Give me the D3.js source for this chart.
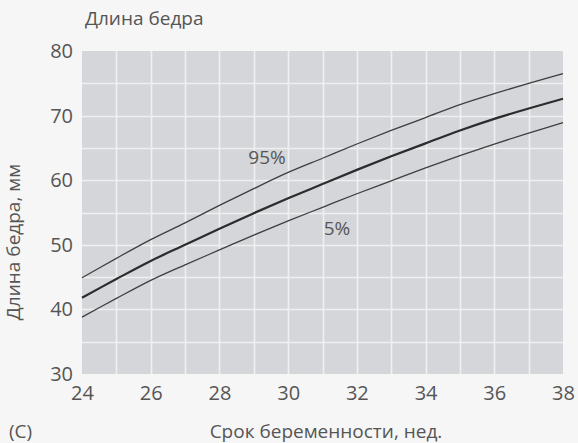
<!DOCTYPE html>
<html>
<head>
<meta charset="utf-8">
<script src="https://cdn.jsdelivr.net/npm/d3@7"></script>
<style>
  html, body { margin: 0; padding: 0; background: #f6f6f6; }
  svg { display: block; }
  text { font-family: "Open Sans", "Noto Sans", sans-serif; fill: #555; }
</style>
</head>
<body>
<svg id="chart" width="578" height="443"></svg>
<script>
// Gestational age, weeks
const weeks = [24, 25, 26, 27, 28, 29, 30, 31, 32, 33, 34, 35, 36, 37, 38];
// Femur length, mm
const p50 = [41.8, 44.7, 47.5, 50.0, 52.5, 54.9, 57.2, 59.4, 61.6, 63.7, 65.7, 67.7, 69.5, 71.1, 72.6];
const p95 = [44.9, 47.9, 50.8, 53.4, 56.1, 58.7, 61.2, 63.4, 65.6, 67.7, 69.7, 71.7, 73.4, 75.0, 76.5];
const p5  = [38.8, 41.7, 44.5, 46.9, 49.2, 51.5, 53.7, 55.8, 57.9, 59.9, 61.9, 63.8, 65.6, 67.3, 68.9];
const xTicks = [24, 26, 28, 30, 32, 34, 36, 38];
const yTicks = [30, 40, 50, 60, 70, 80];
const gridX = weeks;
const gridY = [30, 35, 40, 45, 50, 55, 60, 65, 70, 75, 80];

const svg = d3.select("#chart");
const m = { left: 82, right: 563, top: 51, bottom: 374 };

const x = d3.scaleLinear().domain([24, 38]).range([m.left, m.right]);
const y = d3.scaleLinear().domain([30, 80]).range([m.bottom, m.top]);

// plot background
svg.append("rect")
  .attr("x", m.left).attr("y", m.top)
  .attr("width", m.right - m.left).attr("height", m.bottom - m.top)
  .attr("fill", "#d5d6d9");

// white grid: one column per week, one row per 5 mm
const snap = v => Math.round(v) + 0.5;
const grid = svg.append("g").attr("stroke", "#f0f0f1").attr("stroke-width", 1.6);
grid.selectAll("line.v").data(gridX.slice(1, -1)).join("line")
  .attr("class", "v")
  .attr("x1", d => snap(x(d))).attr("x2", d => snap(x(d)))
  .attr("y1", m.top).attr("y2", m.bottom);
grid.selectAll("line.h").data(gridY.slice(1, -1)).join("line")
  .attr("class", "h")
  .attr("x1", m.left).attr("x2", m.right)
  .attr("y1", d => snap(y(d))).attr("y2", d => snap(y(d)));

// axes (labels only)
const xAxis = svg.append("g")
  .attr("transform", `translate(0,${m.bottom})`)
  .call(d3.axisBottom(x).tickValues(xTicks).tickSize(0).tickPadding(12));
xAxis.select(".domain").remove();
xAxis.selectAll("text").attr("font-size", 20).attr("fill", "#555");

const yAxis = svg.append("g")
  .attr("transform", `translate(${m.left},0)`)
  .call(d3.axisLeft(y).tickValues(yTicks).tickSize(0).tickPadding(9));
yAxis.select(".domain").remove();
yAxis.selectAll("text").attr("font-size", 20).attr("fill", "#555");

// percentile curves
const line = d3.line()
  .x((d, i) => x(weeks[i]))
  .y(d => y(d))
  .curve(d3.curveCatmullRom);

svg.append("path").datum(p95).attr("d", line)
  .attr("fill", "none").attr("stroke", "#3e3e40").attr("stroke-width", 1.3);
svg.append("path").datum(p5).attr("d", line)
  .attr("fill", "none").attr("stroke", "#3e3e40").attr("stroke-width", 1.3);
svg.append("path").datum(p50).attr("d", line)
  .attr("fill", "none").attr("stroke", "#2c2c2e").attr("stroke-width", 2.2);

// curve labels
svg.append("text").attr("x", 267).attr("y", 164)
  .attr("text-anchor", "middle").attr("font-size", 19).text("95%");
svg.append("text").attr("x", 337).attr("y", 235)
  .attr("text-anchor", "middle").attr("font-size", 19).text("5%");

// titles
svg.append("text").attr("x", 85).attr("y", 25)
  .attr("font-size", 19).text("Длина бедра");
svg.append("text")
  .attr("transform", "translate(20,242) rotate(-90)")
  .attr("text-anchor", "middle").attr("font-size", 19).text("Длина бедра, мм");
svg.append("text").attr("x", 326).attr("y", 438)
  .attr("text-anchor", "middle").attr("font-size", 19).text("Срок беременности, нед.");
svg.append("text").attr("x", 9).attr("y", 438)
  .attr("font-size", 19).text("(C)");
</script>
</body>
</html>
